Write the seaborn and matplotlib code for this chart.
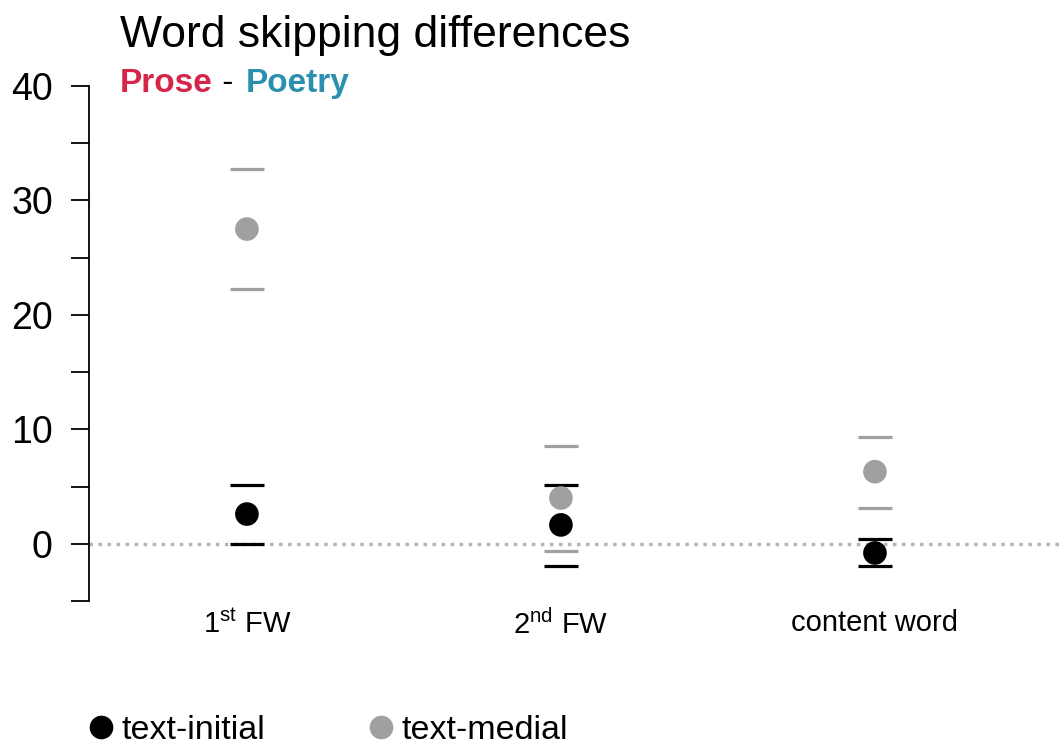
import pandas as pd
import matplotlib
matplotlib.use('Agg')
import matplotlib.pyplot as plt
from matplotlib.lines import Line2D
import seaborn as sns

# Values (prose minus poetry, percentage points)
categories = ['1st FW', '2nd FW', 'content word']
tick_labels = ['1$^{\\mathrm{st}}$ FW', '2$^{\\mathrm{nd}}$ FW', 'content word']
initial_mean = [2.6, 1.65, -0.8]
initial_low = [0.0, -1.9, -1.9]
initial_high = [5.15, 5.15, 0.45]
medial_mean = [27.5, 4.0, 6.3]
medial_low = [22.3, -0.6, 3.15]
medial_high = [32.75, 8.55, 9.35]

sns.set_style('white')
plt.rcParams['font.family'] = ['Liberation Sans', 'DejaVu Sans']
plt.rcParams['mathtext.fontset'] = 'custom'
plt.rcParams['mathtext.rm'] = 'Liberation Sans'
plt.rcParams['text.color'] = 'black'
plt.rcParams['xtick.color'] = 'black'
plt.rcParams['ytick.color'] = 'black'

black = '#000000'
grey = '#a0a0a0'

df = pd.DataFrame({
    'word': categories * 2,
    'pos': list(range(len(categories))) * 2,
    'diff': initial_mean + medial_mean,
    'low': initial_low + medial_low,
    'high': initial_high + medial_high,
    'position': ['text-initial'] * 3 + ['text-medial'] * 3,
})

fig = plt.figure(figsize=(10.64, 7.47), dpi=100)
ax = fig.add_axes([0.0836, 0.1954, 0.9164, 0.6895])

# reference line at zero
ax.axhline(0, color='#b5b5b5', lw=2.5, ls=(0, (1, 1.6)), zorder=1)

for grp, col in [('text-initial', black), ('text-medial', grey)]:
    sub = df[df['position'] == grp]
    ax.errorbar(sub['pos'], sub['diff'],
                yerr=[sub['diff'] - sub['low'], sub['high'] - sub['diff']],
                fmt='none', ecolor=col, elinewidth=0, capsize=12.5,
                capthick=2.3, zorder=2)

sns.scatterplot(data=df, x='pos', y='diff', hue='position',
                palette={'text-initial': black, 'text-medial': grey},
                s=290, edgecolor='none', legend=False, ax=ax, zorder=3)

ax.set_xlim(-0.503, 2.602)
ax.set_ylim(-5, 40)
ax.set_xticks(range(len(categories)))
ax.set_xticklabels(tick_labels, fontsize=21, color='black')
ax.tick_params(axis='x', length=0, pad=6)
ax.set_yticks([-5, 0, 5, 10, 15, 20, 25, 30, 35, 40])
ax.set_yticklabels(['', '0', '', '10', '', '20', '', '30', '', '40'], fontsize=27, color='black')
ax.tick_params(axis='y', length=13, width=1.3, pad=13, left=True)
ax.set_xlabel('')
ax.set_ylabel('')
for side in ['top', 'right', 'bottom']:
    ax.spines[side].set_visible(False)
ax.spines['left'].set_linewidth(1.3)
ax.spines['left'].set_bounds(-5, 40)
ax.spines['left'].set_color('black')

# title and coloured subtitle
fig.text(0.1128, 0.937, 'Word skipping differences', fontsize=32, va='baseline', ha='left')
t1 = fig.text(0.1128, 0.877, 'Prose', fontsize=24, fontweight='bold', color='#d6254a',
              va='baseline', ha='left')
fig.canvas.draw()
rend = fig.canvas.get_renderer()
bb = t1.get_window_extent(renderer=rend)
t2 = fig.text(bb.x1 / fig.bbox.width, 0.877, ' - ', fontsize=24,
              color='black', va='baseline', ha='left')
bb = t2.get_window_extent(renderer=rend)
fig.text(bb.x1 / fig.bbox.width + 0.003, 0.877, 'Poetry', fontsize=24, fontweight='bold',
         color='#2a90ae', va='baseline', ha='left')

handles = [Line2D([], [], marker='o', ls='none', color=black, markersize=16),
           Line2D([], [], marker='o', ls='none', color=grey, markersize=16)]
fig.legend(handles, ['text-initial', 'text-medial'], loc='center left',
           bbox_to_anchor=(0.073, 0.022), ncol=2, frameon=False, fontsize=24.5,
           handlelength=0.6, handletextpad=0.3, columnspacing=3.1, borderaxespad=0)

fig.savefig('out.png', dpi=100)
